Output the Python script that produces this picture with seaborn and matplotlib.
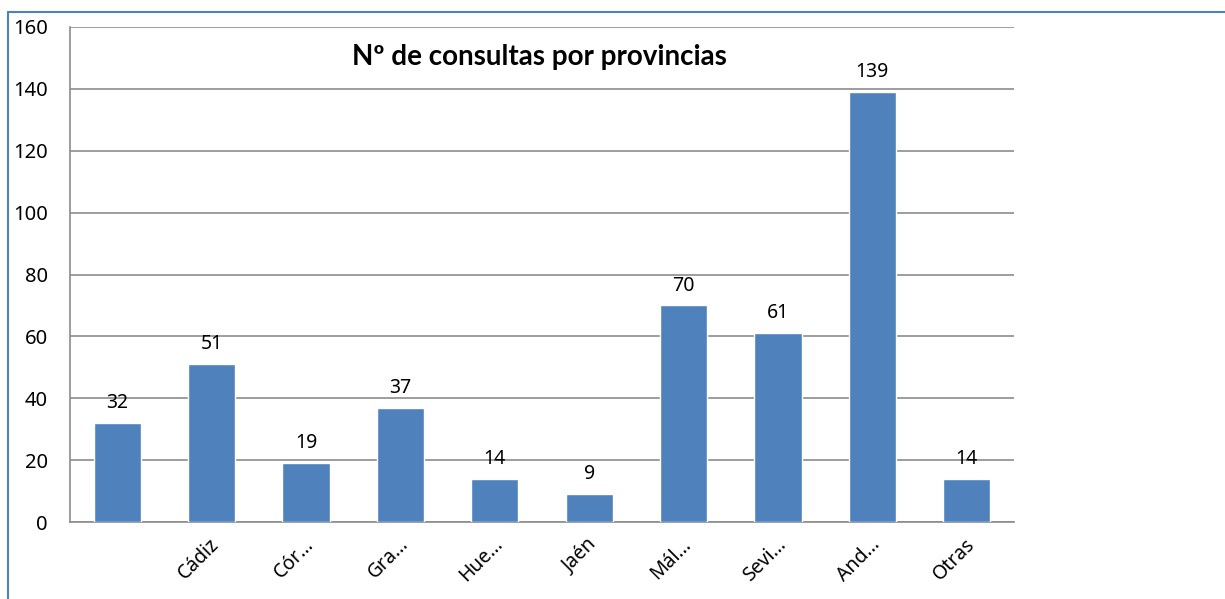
import numpy as np
import pandas as pd
import matplotlib
matplotlib.use("Agg")
import matplotlib.pyplot as plt
import matplotlib.transforms as mtransforms
import seaborn as sns

# data
provincias = ["", "Cádiz", "Cór…", "Gra…", "Hue…", "Jaén", "Mál…", "Sevi…", "And…", "Otras"]
consultas = [32, 51, 19, 37, 14, 9, 70, 61, 139, 14]
titulo = "Nº de consultas por provincias"
y_ticks = [0, 20, 40, 60, 80, 100, 120, 140, 160]


def plot_bars(cats, vals):
    sns.set_style("white")
    plt.rcParams['font.family'] = ['Noto Sans', 'DejaVu Sans']
    plt.rcParams['text.color'] = 'black'
    plt.rcParams['xtick.color'] = 'black'
    plt.rcParams['ytick.color'] = 'black'

    fig = plt.figure(figsize=(12.25, 5.99), dpi=100)
    ax = fig.add_axes([70 / 1225, 1 - 522 / 599, (1014 - 70) / 1225, (522 - 27) / 599])

    df = pd.DataFrame({"provincia": cats, "consultas": vals})
    sns.barplot(data=df, x="provincia", y="consultas", order=cats,
                color="#4F81BD", saturation=1, width=0.5, ax=ax, zorder=3)

    ax.set_ylim(0, 160)
    ax.set_xlim(-0.5, len(cats) - 0.5)
    ax.set_yticks(y_ticks)
    ax.yaxis.grid(True, color="#8c8c8c", linewidth=1.2, zorder=0)
    ax.set_xlabel("")
    ax.set_ylabel("")

    # category ticks between bars, like the spreadsheet
    ax.set_xticks(np.arange(len(cats)))
    ax.set_xticklabels(cats, rotation=45, ha="right", va="center",
                       rotation_mode="anchor", fontsize=14)
    ax.tick_params(axis="x", length=0, pad=14)
    shift = mtransforms.ScaledTranslation(5 / 100, 0, fig.dpi_scale_trans)
    for lab in ax.get_xticklabels():
        lab.set_transform(lab.get_transform() + shift)
    ax.set_xticks(np.arange(-0.5, len(cats)), minor=True)
    ax.tick_params(axis="x", which="minor", length=5, color="#8c8c8c", width=1.2)
    ax.tick_params(axis="y", length=5, color="#8c8c8c", width=1.2, labelsize=14.5, pad=11)

    for side in ["top", "right"]:
        ax.spines[side].set_visible(False)
    for side in ["left", "bottom"]:
        ax.spines[side].set_color("#8c8c8c")
        ax.spines[side].set_linewidth(1.2)

    for i, v in enumerate(vals):
        ax.text(i, v + 4.8, str(v), ha="center", va="baseline", fontsize=14)

    fig.text(539 / 1225, 1 - 57 / 599, titulo, ha="center", va="center",
             fontsize=20, fontweight="bold", family=["Lato", "DejaVu Sans"])

    # blue outer frame of the chart object (top and left visible)
    fig.add_artist(plt.Line2D([8 / 1225, 1.0], [1 - 12 / 599] * 2, color="#4F81BD",
                              linewidth=1.5, transform=fig.transFigure))
    fig.add_artist(plt.Line2D([8 / 1225] * 2, [0, 1 - 12 / 599], color="#4F81BD",
                              linewidth=1.5, transform=fig.transFigure))

    fig.savefig("out.png", dpi=100)


if __name__ == '__main__':
    plot_bars(provincias, consultas)
